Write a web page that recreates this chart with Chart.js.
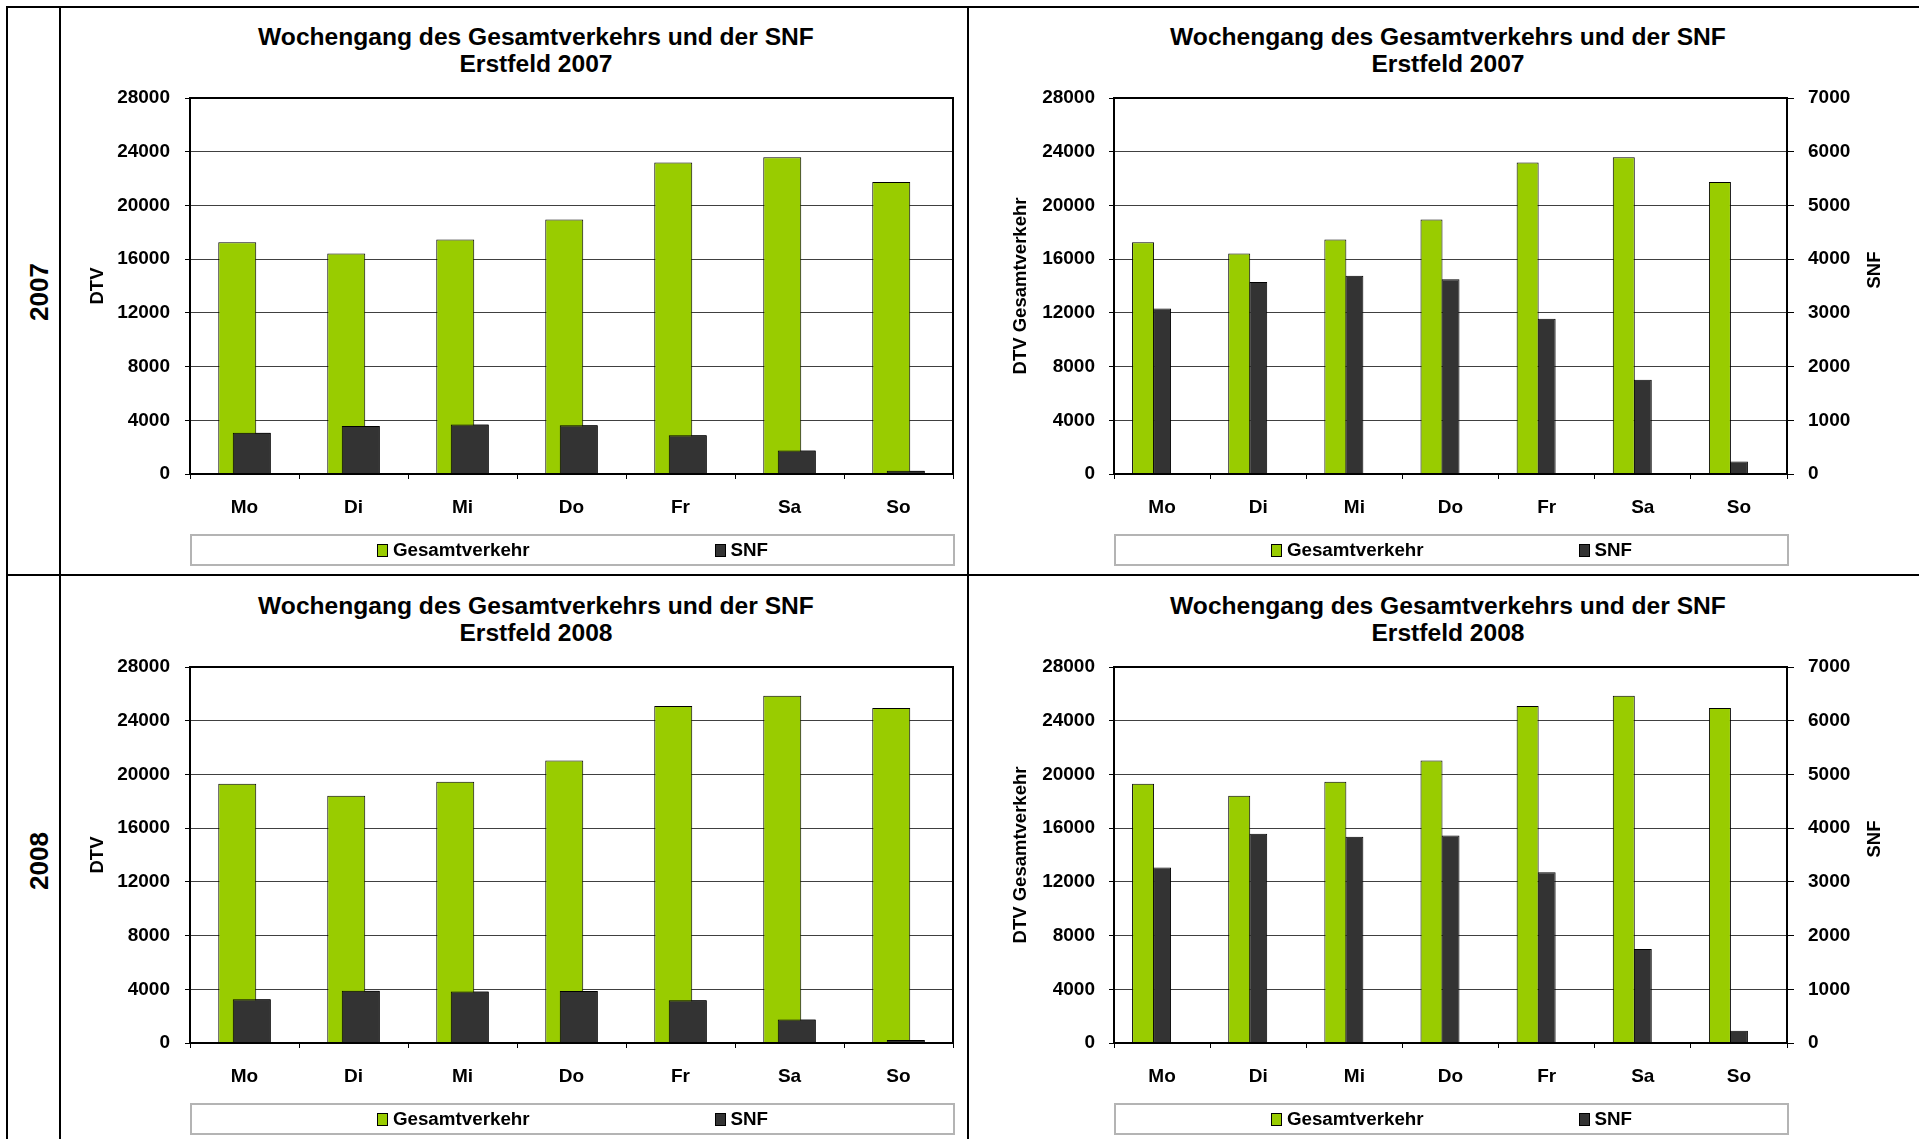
<!DOCTYPE html>
<html lang="de">
<head>
<meta charset="utf-8">
<title>Wochengang Erstfeld 2007 / 2008</title>
<script src="https://cdn.jsdelivr.net/npm/chart.js@4.4.1/dist/chart.umd.min.js"></script>
<style>
  html, body { margin: 0; padding: 0; background: #fff; }
  body {
    width: 1919px; height: 1139px; position: relative; overflow: hidden;
    font-family: "Liberation Sans", Arial, sans-serif; font-weight: bold; color: #000;
  }
  canvas { position: absolute; }
  .rule { position: absolute; background: #000; }
  .row-label {
    position: absolute; font-size: 26px; white-space: nowrap;
    transform: translate(-50%, -50%) rotate(-90deg);
  }
  .title { position: absolute; width: 800px; text-align: center; font-size: 24.6px; line-height: 27px; }
  .legend {
    position: absolute; box-sizing: border-box; height: 32px;
    border: 2px solid #b4b4b4; display: flex; justify-content: space-evenly; align-items: center;
    font-size: 18.8px;
  }
  .legend .item { display: flex; align-items: center; }
  .legend .key { width: 9px; height: 11px; border: 1px solid #000; margin-right: 5px; }
</style>
</head>
<body>
<script>
(function () {
  // --- data ---
  const days = ['Mo', 'Di', 'Mi', 'Do', 'Fr', 'Sa', 'So'];
  const years = ['2007', '2008'];
  const gesamt2007 = [17250, 16420, 17470, 18960, 23200, 23580, 21740];
  const snf2007 = [3080, 3575, 3690, 3625, 2890, 1755, 235];
  const gesamt2008 = [19300, 18410, 19450, 21040, 25090, 25860, 24940];
  const snf2008 = [3265, 3895, 3840, 3865, 3180, 1750, 230];
  const dtvTicks = [0, 4000, 8000, 12000, 16000, 20000, 24000, 28000];
  const snfTicks = [0, 1000, 2000, 3000, 4000, 5000, 6000, 7000];
  const seriesNames = ['Gesamtverkehr', 'SNF'];
  const titleText = 'Wochengang des Gesamtverkehrs und der SNF';
  const placeName = 'Erstfeld';

  const gesamtByYear = [gesamt2007, gesamt2008];
  const snfByYear = [snf2007, snf2008];

  const green = '#99cc00';
  const dark = '#333333';
  const fontFamily = '"Liberation Sans", Arial, sans-serif';

  Chart.defaults.font.family = fontFamily;
  Chart.defaults.font.weight = 'bold';
  Chart.defaults.color = '#000';

  // page geometry
  const rowTops = [7, 576];
  const rowHeight = 567;
  const panels = [
    { left: 60, width: 908, titleX: 536, dual: false, pad: { left: 20, right: 15 }, yWidth: 110, y1Width: 0, yTickPad: 15 },
    { left: 968, width: 951, titleX: 1448, dual: true, pad: { left: 35, right: 27 }, yWidth: 111, y1Width: 105, yTickPad: 14 },
  ];

  const add = (cls, css, text) => {
    const el = document.createElement('div');
    el.className = cls;
    Object.assign(el.style, css);
    if (text !== undefined) el.innerHTML = text;
    document.body.appendChild(el);
    return el;
  };

  // SNF bars sit on top of the green bars in the single-axis chart
  const drawOnTop = {
    id: 'drawOnTop',
    afterDatasetsDraw(chart) {
      chart.data.datasets.forEach((ds, i) => {
        if (ds.onTop) chart.getDatasetMeta(i).controller.draw();
      });
    },
  };

  const plotFrame = {
    id: 'plotFrame',
    afterDatasetsDraw(chart) {
      const { ctx, chartArea: a } = chart;
      ctx.save();
      ctx.strokeStyle = '#000';
      ctx.lineWidth = 2;
      ctx.strokeRect(a.left, a.top, a.right - a.left, a.bottom - a.top);
      ctx.restore();
    },
  };

  // right axis title, turned the same way as the left one (reads bottom to top)
  const sideTitle = {
    id: 'sideTitle',
    afterDraw(chart, args, opts) {
      const scale = chart.scales[opts.axis];
      if (!scale || !opts.text) return;
      const { ctx } = chart;
      ctx.save();
      ctx.font = `bold ${opts.size}px ${fontFamily}`;
      ctx.fillStyle = '#000';
      ctx.textAlign = 'center';
      ctx.textBaseline = 'middle';
      ctx.translate(scale.right - opts.offset, (scale.top + scale.bottom) / 2 + opts.shift);
      ctx.rotate(-Math.PI / 2);
      ctx.fillText(opts.text, 0, 0);
      ctx.restore();
    },
  };

  const tickFont = { size: 19, weight: 'bold' };
  const axisTitleFont = { size: 18.5, weight: 'bold' };

  const buildDatasets = (panel, gesamt, snf) => {
    if (!panel.dual) {
      return [
        { label: seriesNames[0], data: gesamt, backgroundColor: green, borderColor: '#000', borderWidth: 1,
          categoryPercentage: 0.266, barPercentage: 2.62 },
        { label: seriesNames[1], data: snf, backgroundColor: dark, borderColor: '#000', borderWidth: 1,
          categoryPercentage: 0.266, barPercentage: 2.62, onTop: true },
      ];
    }
    return [
      { label: seriesNames[0], data: gesamt, yAxisID: 'y', backgroundColor: green, borderColor: '#000', borderWidth: 1,
        categoryPercentage: 0.593, barPercentage: 1.158 },
      { label: seriesNames[1], data: snf, yAxisID: 'y1', backgroundColor: dark, borderColor: '#000', borderWidth: 1,
        categoryPercentage: 0.593, barPercentage: 0.947 },
      // empty placeholder series, keeps the SNF bar centred on the day
      { label: '', data: [], yAxisID: 'y1', categoryPercentage: 0.593 },
    ];
  };

  const buildScales = (panel) => {
    const scales = {
      x: {
        offset: true,
        grid: { offset: true, drawOnChartArea: false, drawTicks: true, tickLength: 5, tickColor: '#000' },
        border: { display: true, color: '#000', width: 2 },
        ticks: { font: tickFont, color: '#000', padding: 17, maxRotation: 0, autoSkip: false },
        afterFit: (scale) => { scale.height = 45; },
      },
      y: {
        position: 'left',
        min: dtvTicks[0],
        max: dtvTicks[dtvTicks.length - 1],
        ticks: {
          stepSize: dtvTicks[1] - dtvTicks[0], font: tickFont, color: '#000', padding: panel.yTickPad,
          format: { useGrouping: false },
        },
        grid: { color: '#404040', lineWidth: 1, tickLength: 5, tickColor: '#000' },
        border: { color: '#000', width: 2 },
        title: {
          display: true,
          text: panel.dual ? 'DTV Gesamtverkehr' : 'DTV',
          font: axisTitleFont, color: '#000', padding: { top: 7, bottom: 0 },
        },
        afterFit: (scale) => { scale.width = panel.yWidth; },
      },
    };
    if (panel.dual) {
      scales.y1 = {
        position: 'right',
        min: snfTicks[0],
        max: snfTicks[snfTicks.length - 1],
        ticks: {
          stepSize: snfTicks[1] - snfTicks[0], font: tickFont, color: '#000', padding: 14,
          format: { useGrouping: false },
        },
        grid: { drawOnChartArea: false, tickLength: 7, tickColor: '#000' },
        border: { color: '#000', width: 2 },
        afterFit: (scale) => { scale.width = panel.y1Width; },
      };
    }
    return scales;
  };

  const buildLegend = (chart, panel, top) => {
    const a = chart.chartArea;
    const box = add('legend', {
      left: panel.left + a.left + 'px',
      top: top + 527 + 'px',
      width: a.right - a.left + 2 + 'px',
    });
    chart.data.datasets
      .filter((ds) => ds.label)
      .forEach((ds) => {
        const item = document.createElement('div');
        item.className = 'item';
        const key = document.createElement('span');
        key.className = 'key';
        key.style.background = ds.backgroundColor;
        const label = document.createElement('span');
        label.textContent = ds.label;
        item.appendChild(key);
        item.appendChild(label);
        box.appendChild(item);
      });
  };

  years.forEach((year, row) => {
    const top = rowTops[row];
    add('row-label', { left: '39px', top: top + 285 + 'px' }, year);

    panels.forEach((panel) => {
      add('title', { left: panel.titleX - 400 + 'px', top: top + 16 + 'px' },
        `${titleText}<br>${placeName} ${year}`);

      const canvas = document.createElement('canvas');
      canvas.width = panel.width;
      canvas.height = rowHeight;
      canvas.style.left = panel.left + 'px';
      canvas.style.top = top + 'px';
      document.body.appendChild(canvas);

      const chart = new Chart(canvas, {
        type: 'bar',
        data: { labels: days, datasets: buildDatasets(panel, gesamtByYear[row], snfByYear[row]) },
        options: {
          responsive: false,
          animation: false,
          events: [],
          layout: { padding: { left: panel.pad.left, right: panel.pad.right, top: 91, bottom: 55 } },
          plugins: {
            legend: { display: false },
            title: { display: false },
            tooltip: { enabled: false },
            sideTitle: panel.dual ? { axis: 'y1', text: 'SNF', size: 18.5, offset: 17.5, shift: -16 } : {},
          },
          scales: buildScales(panel),
        },
        plugins: [drawOnTop, plotFrame, sideTitle],
      });

      buildLegend(chart, panel, top);
    });
  });

  // table rules
  add('rule', { left: '6px', top: '6px', width: '1913px', height: '2px' });
  add('rule', { left: '6px', top: '574px', width: '1913px', height: '2px' });
  add('rule', { left: '6px', top: '6px', width: '2px', height: '1133px' });
  add('rule', { left: '59px', top: '6px', width: '2px', height: '1133px' });
  add('rule', { left: '967px', top: '6px', width: '2px', height: '1133px' });
})();
</script>
</body>
</html>
